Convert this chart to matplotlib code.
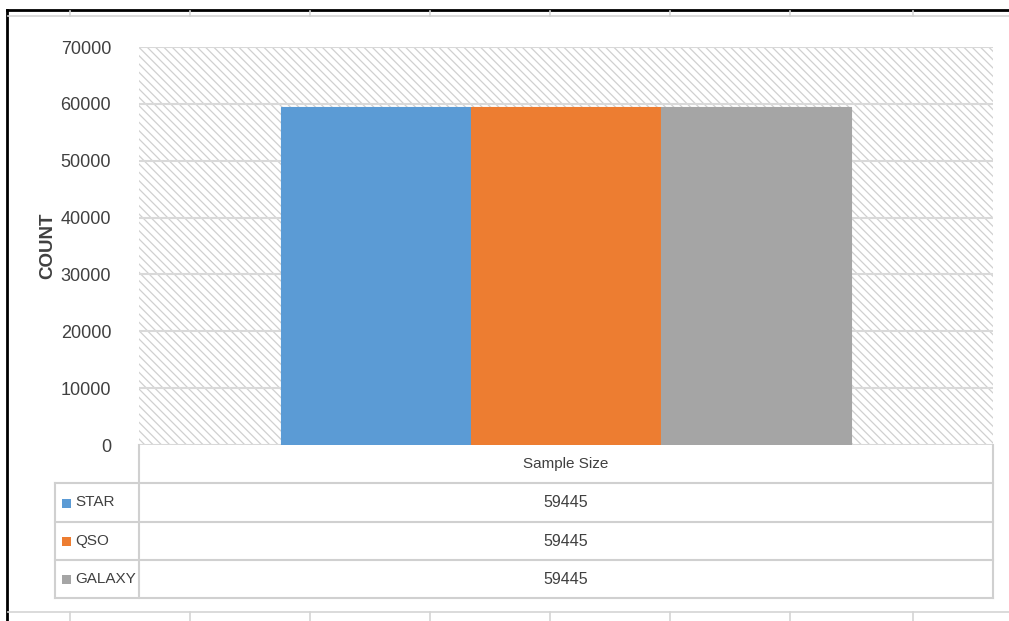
import matplotlib
matplotlib.use('Agg')
import matplotlib.pyplot as plt
from matplotlib.patches import Rectangle
from matplotlib.lines import Line2D

# sample sizes per class
classes = ['STAR', 'QSO', 'GALAXY']
sample_size = [59445, 59445, 59445]
colors = ['#5B9BD5', '#ED7D31', '#A5A5A5']
category = 'Sample Size'
yticks = [0, 10000, 20000, 30000, 40000, 50000, 60000, 70000]

plt.rcParams['font.family'] = ['Liberation Sans', 'DejaVu Sans']
plt.rcParams['hatch.linewidth'] = 0.9
W, H = 1009, 621
fig = plt.figure(figsize=(W / 100, H / 100), dpi=100)


def fx(px):
    return px / W


def fy(py):
    return 1 - py / H


# excel sheet frame around the chart
grid_c = '#d4d4d4'
fig.add_artist(Line2D([fx(7), 1], [fy(10), fy(10)], color='black', lw=2))
fig.add_artist(Line2D([fx(7), fx(7)], [fy(10), 0], color='black', lw=2))
fig.add_artist(Line2D([fx(8), 1], [fy(16), fy(16)], color=grid_c, lw=1.2))
fig.add_artist(Line2D([fx(8), 1], [fy(612), fy(612)], color=grid_c, lw=1.2))
for xc in [70, 190, 310, 430, 550, 670, 790, 913]:
    fig.add_artist(Line2D([fx(xc), fx(xc)], [fy(11), fy(16)], color=grid_c, lw=1.2))
    fig.add_artist(Line2D([fx(xc), fx(xc)], [fy(612), 0], color=grid_c, lw=1.2))

# main plot area
x0, x1, ytop, ybot = 139, 993, 47, 445
ax = fig.add_axes([fx(x0), fy(ybot), fx(x1 - x0), (ybot - ytop) / H])
ax.set_xlim(-0.5, 0.5)
ax.set_ylim(0, 70000)

ax.add_patch(Rectangle((0, 0), 1, 1, transform=ax.transAxes, facecolor='white',
                       edgecolor='#d0d0d0', hatch='\\\\\\\\', lw=0, zorder=0))
for t in yticks:
    ax.axhline(t, color='#d9d9d9', lw=1.5, zorder=1)

bw = 190 / (x1 - x0)
for i, (name, val, c) in enumerate(zip(classes, sample_size, colors)):
    ax.bar((i - 1) * bw, val, width=bw, color=c, edgecolor=c, lw=0.8, zorder=2)

ax.set_yticks(yticks)
ax.set_yticklabels([str(t) for t in yticks], fontsize=13, color='#404040')
ax.tick_params(axis='y', length=0, pad=20)
ax.set_xticks([])
for s in ax.spines.values():
    s.set_visible(False)

fig.text(fx(48), fy(246), 'COUNT', rotation=90, ha='center', va='center',
         fontsize=13.5, fontweight='bold', color='#404040')

# data table below the chart
tab_c = '#d0d0d0'
row_edges = [445, 483, 522, 560, 598]
lx0 = 55
fig.add_artist(Line2D([fx(x0), fx(x0)], [fy(445), fy(598)], color=tab_c, lw=1.5))
fig.add_artist(Line2D([fx(x1), fx(x1)], [fy(445), fy(598)], color=tab_c, lw=1.5))
fig.add_artist(Line2D([fx(lx0), fx(lx0)], [fy(483), fy(598)], color=tab_c, lw=1.5))
for i, ry in enumerate(row_edges[1:]):
    fig.add_artist(Line2D([fx(lx0), fx(x1)], [fy(ry), fy(ry)], color=tab_c, lw=1.5))
fig.text(fx((x0 + x1) / 2), fy((row_edges[0] + row_edges[1]) / 2), category,
         ha='center', va='center', fontsize=11, color='#404040')
for i, (name, val, c) in enumerate(zip(classes, sample_size, colors)):
    yc = (row_edges[i + 1] + row_edges[i + 2]) / 2
    fig.add_artist(Rectangle((fx(62), fy(yc + 5)), fx(9), 9 / H, facecolor=c, edgecolor='none'))
    fig.text(fx(75), fy(yc), name, ha='left', va='center', fontsize=11, color='#404040')
    fig.text(fx((x0 + x1) / 2), fy(yc), str(val), ha='center', va='center',
             fontsize=11.5, color='#404040')

fig.savefig('out.png', dpi=100)
